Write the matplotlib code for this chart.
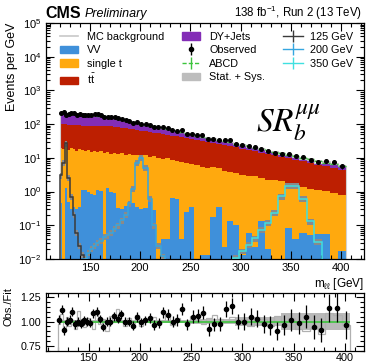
import numpy as np
import matplotlib
matplotlib.use("Agg")
import matplotlib.pyplot as plt
from matplotlib.lines import Line2D
from matplotlib.patches import Patch
from matplotlib.ticker import MultipleLocator, LogLocator, NullFormatter, FormatStrFormatter

plt.rcParams['font.family'] = ['Liberation Sans', 'DejaVu Sans']
plt.rcParams['mathtext.fontset'] = 'custom'
plt.rcParams['mathtext.rm'] = 'Liberation Sans'
plt.rcParams['mathtext.it'] = 'Liberation Sans:italic'
plt.rcParams['mathtext.bf'] = 'Liberation Sans:bold'
plt.rcParams['mathtext.default'] = 'regular'

# dilepton mass binning (GeV), 2% resolution-driven bins
edges = np.geomspace(120, 405, 61)

# stacked backgrounds, events per GeV
vv = [0.45, 0.0, 1.3, 0.5, 0.3, 0.35, 0.3, 0.35, 1.15, 1.1,
      1.0, 0.85, 0.8, 1.1, 1.05, 0.0, 1.25, 0.95, 0.9, 0.33,
      0.3, 0.38, 0.45, 0.45, 0.35, 0.3, 0.33, 0.55, 0.28, 0.0,
      0.04, 0.04, 0.65, 0.6, 0.04, 0.25, 0.35, 0.0, 0.013, 0.013,
      0.18, 0.35, 0.023, 0.13, 0.1, 0.013, 0.06, 0.023, 0.13, 0.02,
      0.0, 0.0, 0.083, 0.039, 0.06, 0.05, 0.055, 0.055, 0.0, 0.017]
single_top = [19.5, 18.0, 19.7, 16.5, 18.7, 17.6, 15.7, 17.6, 15.8, 14.9,
              16.0, 14.1, 15.2, 13.4, 15.0, 14.0, 13.8, 12.5, 13.1, 12.7,
              13.7, 12.1, 12.5, 11.5, 12.1, 10.7, 11.7, 9.9, 10.7, 10.0,
              9.5, 10.0, 7.9, 7.4, 7.6, 6.8, 6.2, 6.0, 5.2, 5.0,
              5.0, 4.5, 4.0, 3.8, 3.5, 3.1, 2.9, 2.8, 2.4, 2.2,
              2.2, 2.0, 1.6, 1.56, 1.34, 1.15, 1.05, 0.95, 0.9, 0.78]
ttbar = [80, 81, 77, 79, 76, 76, 77, 74, 74, 73,
         71, 72, 73, 75, 74, 76, 74, 73, 70, 68,
         64, 63, 59, 58, 54, 53, 49, 48, 45, 43.5,
         41.4, 38.3, 37, 35.4, 33.6, 31.9, 30, 28, 27.1, 25,
         22.9, 21.4, 19.9, 18.4, 16.9, 15.7, 14.2, 12.9, 11.8, 10.7,
         9.6, 8.7, 8.0, 7.1, 6.4, 5.8, 5.2, 4.6, 4.2, 3.7]
dy_jets = [107, 128, 96, 119, 99, 110, 89, 123, 98, 91,
           107, 98, 80, 112, 81, 88, 62, 83, 67, 82,
           60, 49, 55, 44, 50, 34, 37.8, 31.9, 34.4, 25.1,
           25.9, 28.4, 17.9, 20.5, 16.8, 14.0, 16.5, 12.5, 9.4, 11.6,
           11.5, 8.5, 6.8, 7.7, 5.8, 6.0, 3.9, 5.2, 4.4, 2.9,
           4.1, 2.9, 3.1, 1.6, 1.2, 1.4, 0.8, 2.2, 1.8, 1.1]

# data-driven (ABCD) prediction and its relative uncertainty
abcd_fit = [213, 210, 208, 205, 203, 200, 198, 195, 193, 190,
            188, 185, 182, 180, 176, 173, 168, 160, 152, 144,
            137, 130, 122, 116, 109, 103, 97, 91, 86, 81,
            76, 71, 66, 62, 58, 54, 50, 46, 43, 40,
            37, 34, 31, 28.6, 26.3, 24.1, 22.0, 20.1, 18.3, 16.6,
            15.1, 13.7, 12.4, 11.2, 10.0, 9.0, 8.1, 7.2, 6.5, 5.8]
fit_rel_unc = [0.02, 0.02, 0.02, 0.02, 0.02, 0.02, 0.02, 0.02, 0.02, 0.02,
               0.02, 0.02, 0.02, 0.02, 0.02, 0.02, 0.02, 0.02, 0.02, 0.02,
               0.02, 0.02, 0.02, 0.02, 0.02, 0.02, 0.02, 0.02, 0.02, 0.02,
               0.02, 0.02, 0.02, 0.02, 0.02, 0.02, 0.03, 0.03, 0.03, 0.03,
               0.03, 0.03, 0.03, 0.03, 0.045, 0.045, 0.045, 0.045, 0.045, 0.045,
               0.045, 0.085, 0.085, 0.085, 0.085, 0.085, 0.085, 0.085, 0.085, 0.085]

observed = [217, 235, 189, 205, 207, 220, 192, 195, 189, 192,
            188, 183, 197, 198, 181, 163, 168, 160, 160, 148,
            147, 130, 122, 111, 114, 102, 98, 94, 83, 80,
            83, 76, 66, 63, 65.5, 52.4, 52.5, 48.8, 46.9, 36.8,
            35.9, 33.3, 35.0, 33.2, 26.3, 24.1, 23.1, 20.7, 17.9, 15.9,
            13.6, 13.2, 12.6, 11.0, 10.5, 8.5, 7.4, 8.2, 7.4, 5.6]

# signal hypotheses
sig_125 = [3.0, 7.0, 27, 2.5, 0.7, 0.2, 0.06, 0.025, 0.013, 0.006] + [0.0] * 50
sig_200 = [0, 0, 0, 0, 0, 0, 0, 0, 0, 0.01,
           0.015, 0.02, 0.025, 0.03, 0.035, 0.045, 0.05, 0.06, 0.08, 0.10,
           0.14, 0.2, 0.45, 1.2, 7.0, 10.0, 5.0, 0.6, 0.1, 0.025,
           0.012, 0.005, 0, 0, 0, 0, 0, 0, 0, 0,
           0, 0, 0, 0, 0, 0, 0, 0, 0, 0,
           0, 0, 0, 0, 0, 0, 0, 0, 0, 0]
sig_350 = [0] * 43 + [0.006, 0.011, 0.017, 0.026, 0.041, 0.074, 0.12, 0.23, 0.72,
                      1.5, 1.5, 0.6, 0.13, 0.032, 0.008, 0, 0]
sig_rel_unc = 0.2

c_vv, c_st, c_tt, c_dy = '#3f90da', '#ffa90e', '#bd1f01', '#832db6'
c_abcd = '#3cc43c'
c_s125, c_s200, c_s350 = '#3a3a3a', '#35a6e0', '#3fe0e0'

W, H = 366, 362
fig = plt.figure(figsize=(W / 100, H / 100), dpi=100)
ax = fig.add_axes([46 / W, 1 - 259 / H, 318 / W, 236 / H])
rax = fig.add_axes([46 / W, 1 - 351 / H, 318 / W, 58 / H])

centers = np.sqrt(edges[:-1] * edges[1:])
halfw = [centers - edges[:-1], edges[1:] - centers]
widths = np.diff(edges)

vv_a = np.array(vv)
st_a = np.array(single_top)
tt_a = np.array(ttbar)
dy_a = np.array(dy_jets)
fit = np.array(abcd_fit)
unc = np.array(fit_rel_unc)
obs = np.array(observed)

# stacked MC
base = np.zeros_like(vv_a)
for vals, col in [(vv_a, c_vv), (st_a, c_st), (tt_a, c_tt), (dy_a, c_dy)]:
    ax.stairs(base + vals, edges, baseline=base.copy(), fill=True, color=col, lw=0, zorder=1)
    base = base + vals
mc_total = base
ax.stairs(mc_total, edges, color='#d0d0d0', lw=0.8, zorder=2)

# signals with their uncertainty boxes
for sig, col in [(sig_125, c_s125), (sig_200, c_s200), (sig_350, c_s350)]:
    s = np.array(sig, dtype=float)
    ax.stairs(s * (1 + sig_rel_unc), edges, baseline=s * (1 - sig_rel_unc), fill=True,
              color='#8a8a8a', lw=0, zorder=3)
    ax.stairs(s, edges, color=col, lw=1.1, zorder=4)

# prediction band and ABCD estimate
ax.stairs(fit * (1 + unc), edges, baseline=fit * (1 - unc), fill=True, color='#c4c4c4', lw=0, zorder=5)
eb = ax.errorbar(centers, fit, xerr=halfw, fmt='none', ecolor=c_abcd, elinewidth=1.0, zorder=6)
eb[2][0].set_linestyle((0, (3, 1.5)))

# observed
obs_err = np.sqrt(obs / widths)
ax.errorbar(centers, obs, yerr=obs_err, fmt='o', color='k', ms=2.6, elinewidth=0.8, zorder=7)

ax.set_yscale('log')
ax.set_ylim(1e-2, 1e5)
ax.set_xlim(106.2, 422.9)

# ratio panel
ratio = obs / fit
ratio_err = obs_err / fit
rax.stairs(1 + unc, edges, baseline=1 - unc, fill=True, color='#b9b9b9', lw=0, zorder=1)
rax.stairs(mc_total / fit, edges, color='#b0b0b0', lw=0.9, zorder=2)
rax.errorbar(centers, np.ones_like(fit), xerr=halfw, fmt='none', ecolor=c_abcd, elinewidth=1.2, zorder=3)
rax.errorbar(centers, ratio, yerr=ratio_err, fmt='o', color='k', ms=3.0, elinewidth=0.9, zorder=4)
rax.set_xlim(108.3, 418.8)
rax.set_ylim(0.70, 1.29)

for a in (ax, rax):
    a.tick_params(which='both', direction='in', top=True, right=True, labelsize=8, width=0.8)
    a.tick_params(which='major', length=6)
    a.tick_params(which='minor', length=3)
    a.xaxis.set_major_locator(MultipleLocator(50))
    a.xaxis.set_minor_locator(MultipleLocator(10))
    for sp in a.spines.values():
        sp.set_linewidth(0.9)

ax.tick_params(axis='x', pad=3)
rax.tick_params(axis='x', pad=1.5, labelsize=7.8)
ax.yaxis.set_major_locator(LogLocator(base=10, numticks=20))
ax.yaxis.set_minor_locator(LogLocator(base=10, subs=np.arange(2, 10), numticks=20))
ax.yaxis.set_minor_formatter(NullFormatter())
rax.set_yticks([0.75, 1.0, 1.25])
rax.yaxis.set_major_formatter(FormatStrFormatter('%.2f'))
rax.yaxis.set_minor_locator(MultipleLocator(0.05))
rax.tick_params(axis='y', labelsize=7.7)

# labels and headers
fig.text(12 / W, 1 - 23 / H, 'Events per GeV', rotation=90, ha='center', va='top', fontsize=9)
fig.text(8 / W, 1 - 287 / H, 'Obs./Fit', rotation=90, ha='center', va='top', fontsize=8)
fig.text(364 / W, 1 - 275.5 / H, r'm$_{\ell\ell}$ [GeV]', ha='right', va='top', fontsize=8.5)
fig.text(45 / W, 1 - 17.5 / H, 'CMS', fontweight='bold', fontsize=11.5, ha='left', va='baseline')
fig.text(85 / W, 1 - 17.5 / H, 'Preliminary', fontstyle='italic', fontsize=9, ha='left', va='baseline')
fig.text(362 / W, 1 - 17 / H, r'138 fb$^{-1}$, Run 2 (13 TeV)', fontsize=8.3, ha='right', va='baseline')
fig.text(256 / W, 1 - 131.7 / H, r'$\mathit{SR}_{\mathit{b}}^{\mathit{\mu\mu}}$', fontsize=24,
         math_fontfamily='stix', ha='left', va='baseline')

# legends
leg_kw = dict(frameon=False, fontsize=7.8, loc='upper left', borderpad=0, borderaxespad=0,
              labelspacing=0.32, bbox_transform=fig.transFigure)
h1 = [Line2D([], [], color='#c8c8c8', lw=1.2),
      Patch(color=c_vv), Patch(color=c_st), Patch(color=c_tt)]
l1 = ['MC background', 'VV', 'single t', r'$\mathrm{t\bar{t}}$']
h2 = [Patch(color=c_dy),
      (Line2D([], [], ls='none', marker='|', ms=8.5, mew=1, color='k'),
       Line2D([], [], ls='none', marker='o', ms=3, color='k')),
      (Line2D([], [], ls=(0, (3, 1.5)), lw=1, color=c_abcd),
       Line2D([], [], ls='none', marker='|', ms=8.5, mew=1, color=c_abcd)),
      Patch(color='#bdbdbd')]
l2 = ['DY+Jets', 'Observed', 'ABCD', 'Stat. + Sys.']
h3 = [(Line2D([], [], color=c, lw=1), Line2D([], [], ls='none', marker='|', ms=8.5, mew=1, color=c))
      for c in (c_s125, c_s200, c_s350)]
l3 = ['125 GeV', '200 GeV', '350 GeV']

top = 1 - 31.8 / H
leg1 = ax.legend(h1, l1, bbox_to_anchor=(60 / W, top), handlelength=1.7, handletextpad=0.75, **leg_kw)
ax.add_artist(leg1)
leg2 = ax.legend(h2, l2, bbox_to_anchor=(182 / W, top), handlelength=1.7, handletextpad=0.8, **leg_kw)
ax.add_artist(leg2)
leg3 = ax.legend(h3, l3, bbox_to_anchor=(283 / W, top), handlelength=1.85, handletextpad=0.62, **leg_kw)

fig.savefig('out.png', dpi=100)
